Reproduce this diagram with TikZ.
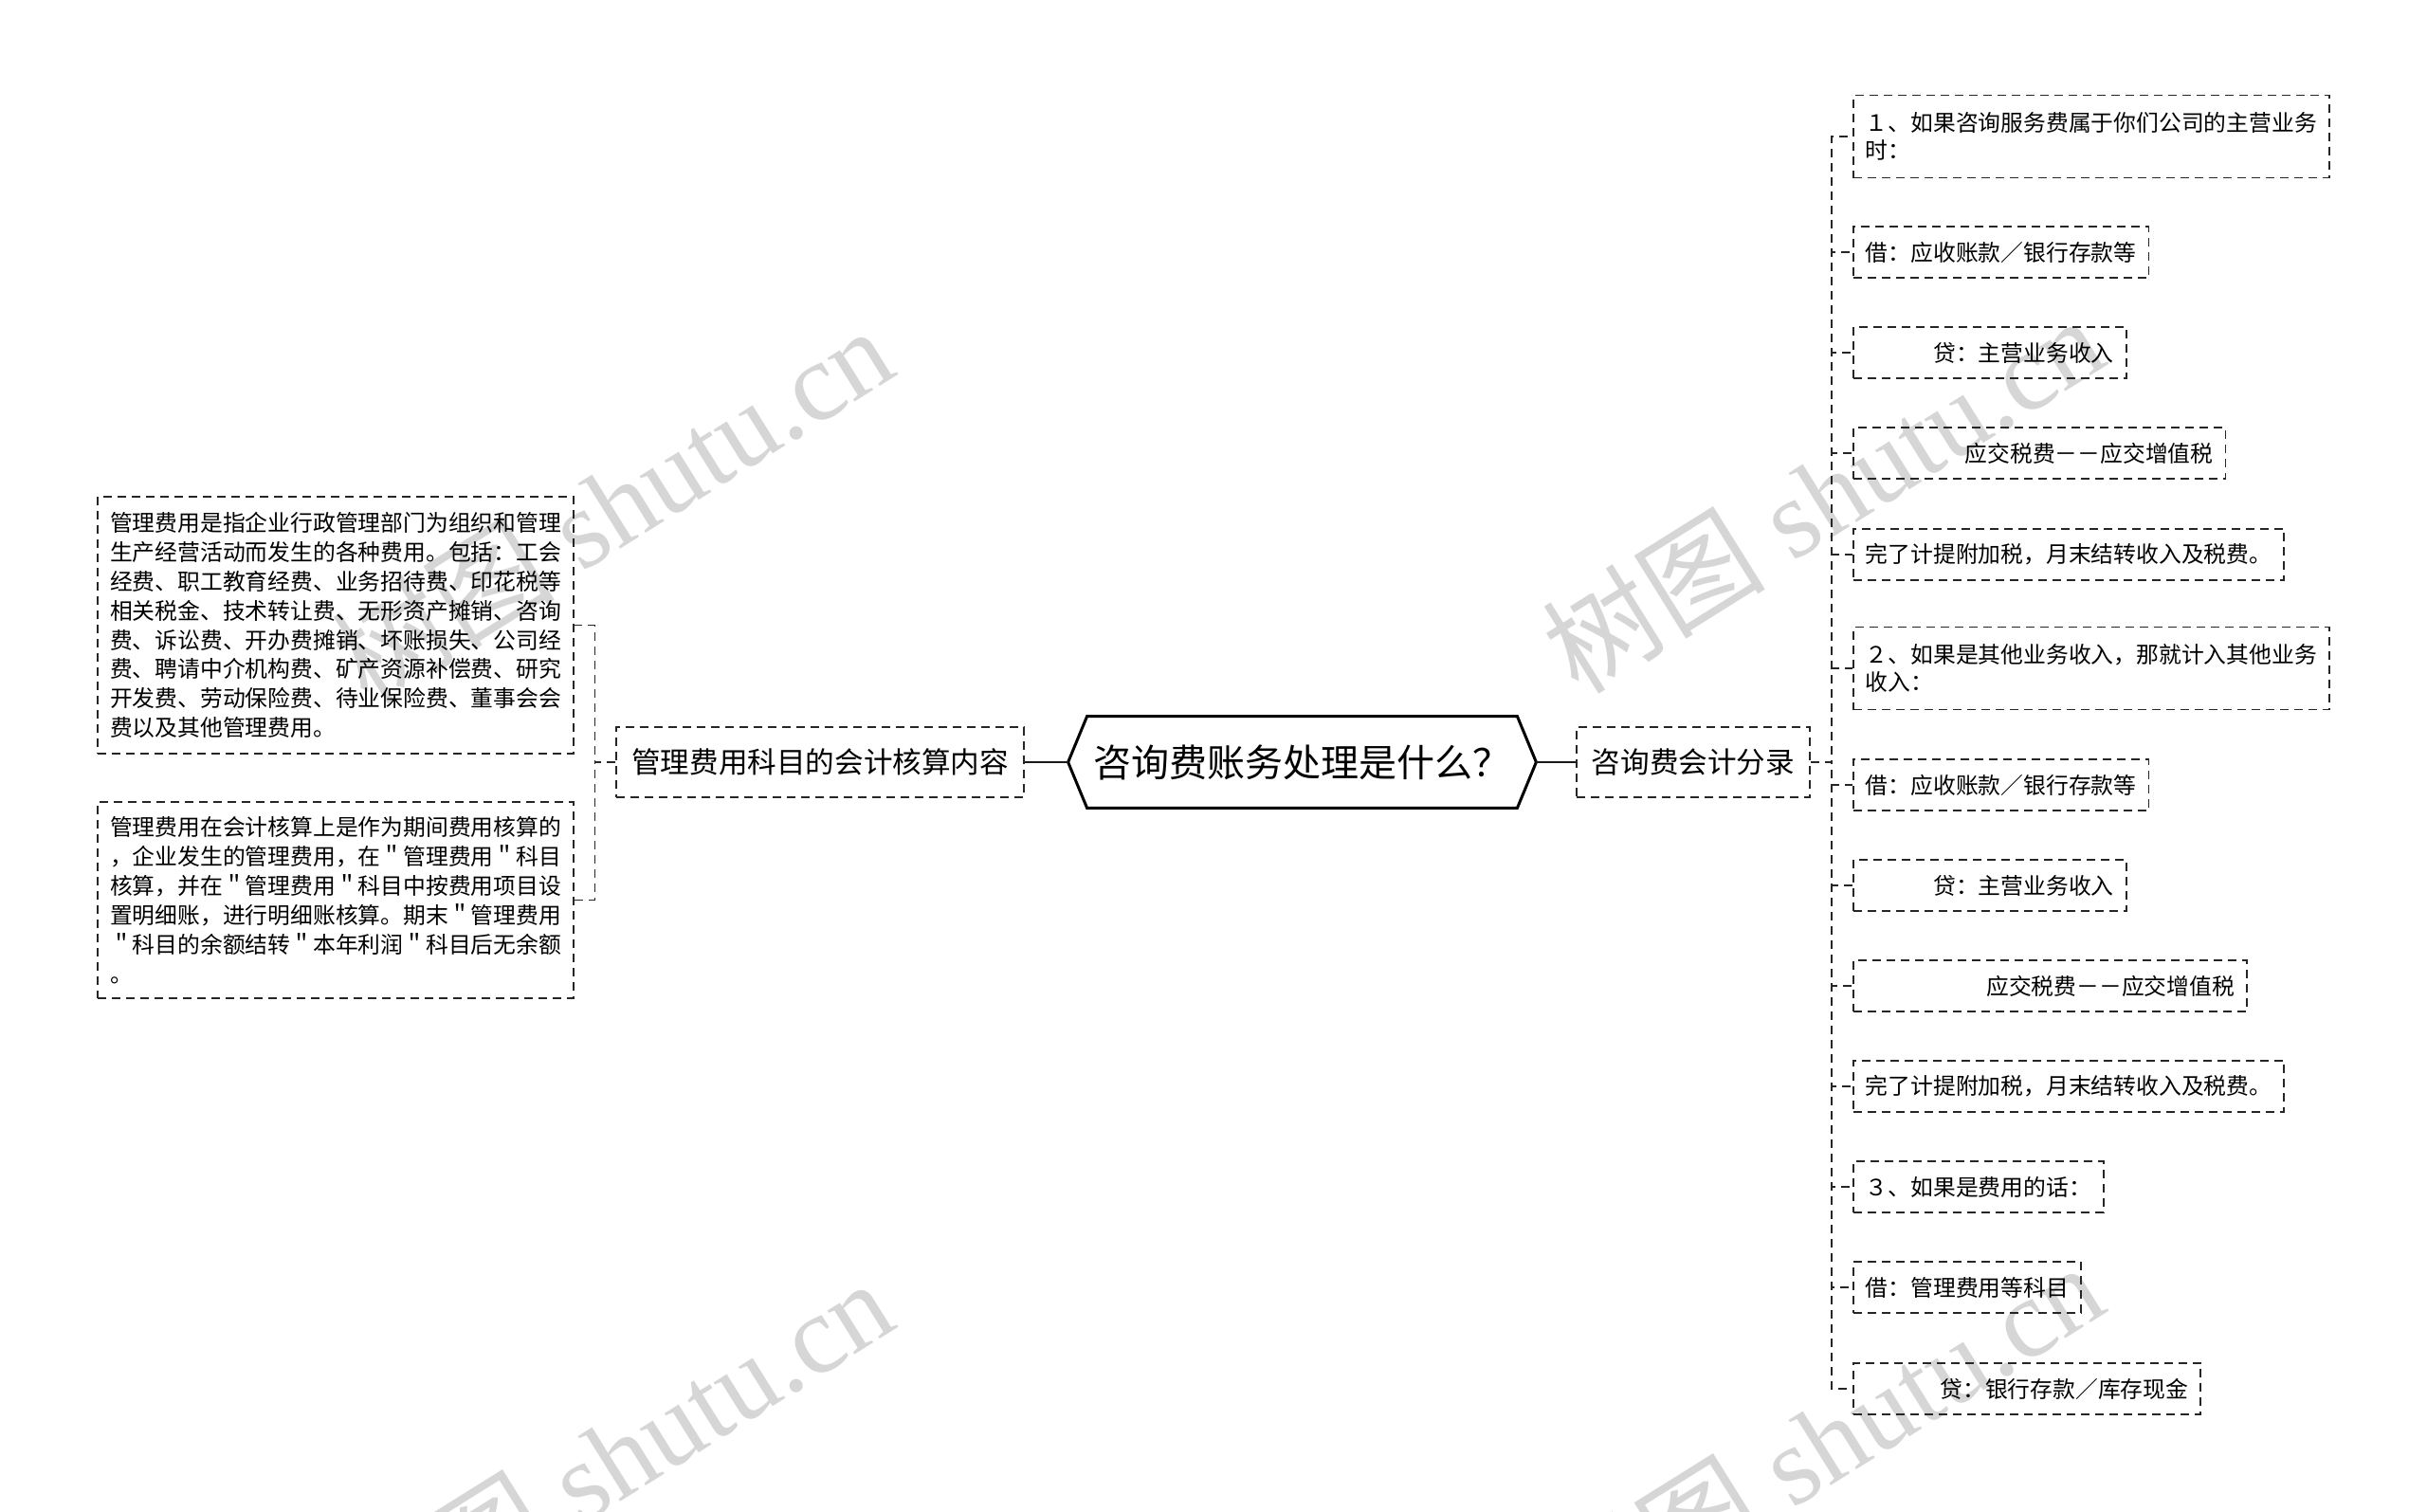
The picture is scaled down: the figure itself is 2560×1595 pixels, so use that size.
\documentclass[tikz,border=0pt]{standalone}
\usepackage{fontspec}
\setmainfont{Noto Sans CJK SC}
\newfontfamily\wmfont{Liberation Serif}
\newfontfamily\cjk{Noto Sans CJK SC}
\begin{document}
\begin{tikzpicture}[x=0.5pt,y=-0.5pt,
  box/.style={draw=black!85, line width=0.9pt, dash pattern=on 4.5pt off 3pt, inner xsep=6.5pt, inner ysep=0pt, align=left, font=\fontsize{11.9pt}{14.5pt}\selectfont},
  one/.style={box, minimum height=27pt, anchor=west},
  two/.style={box, minimum height=43.5pt, anchor=west},
  lbox/.style={box, anchor=east, font=\fontsize{11.9pt}{15.45pt}\selectfont},
  midbox/.style={draw=black!85, line width=0.9pt, dash pattern=on 4.5pt off 3pt, inner xsep=8pt, inner ysep=0pt, minimum height=37pt, font=\fontsize{15.3pt}{18pt}\selectfont},
  link/.style={draw=black!85, line width=0.9pt, dash pattern=on 4.5pt off 3pt},
  rootlink/.style={draw=black!90, line width=1.4pt},
  wm/.style={text=gray!32, rotate=32, inner sep=0pt, font=\fontsize{59pt}{59pt}\wmfont}
]
\useasboundingbox (0,0) rectangle (2560,1595);
\fill[white] (0,0) rectangle (2560,1595);

% watermarks
\node[wm] (wm1) at (645,532) {{\cjk 树图} shutu.cn};
\node[wm] (wm2) at (1922,521) {{\cjk 树图} shutu.cn};
\node[wm] (wm3) at (645,1537) {{\cjk 树图} shutu.cn};
\node[wm] (wm4) at (1922,1520) {{\cjk 树图} shutu.cn};

% root
\node[minimum width=246.5pt, minimum height=48pt, inner sep=0pt, font=\fontsize{20pt}{24pt}\selectfont] (root) at (1373.5,804) {咨询费账务处理是什么？};
\draw[line width=1.5pt, line join=miter] (root.west) -- ([xshift=10pt]root.north west) -- ([xshift=-10pt]root.north east) -- (root.east) -- ([xshift=-10pt]root.south east) -- ([xshift=10pt]root.south west) -- cycle;

% middle nodes
\node[midbox, anchor=east] (lm) at (1081,804) {管理费用科目的会计核算内容};
\node[midbox, anchor=west] (rm) at (1662,804) {咨询费会计分录};
\draw[rootlink] (root.west) -- (lm.east);
\draw[rootlink] (root.east) -- (rm.west);

% left leaves
\node[lbox, minimum height=135.5pt] (l1) at (606,659.5) {管理费用是指企业行政管理部门为组织和管理\\生产经营活动而发生的各种费用。包括：工会\\经费、职工教育经费、业务招待费、印花税等\\相关税金、技术转让费、无形资产摊销、咨询\\费、诉讼费、开办费摊销、坏账损失、公司经\\费、聘请中介机构费、矿产资源补偿费、研究\\开发费、劳动保险费、待业保险费、董事会会\\费以及其他管理费用。};
\node[lbox, minimum height=103.5pt] (l2) at (606,949.5) {管理费用在会计核算上是作为期间费用核算的\\，企业发生的管理费用，在＂管理费用＂科目\\核算，并在＂管理费用＂科目中按费用项目设\\置明细账，进行明细账核算。期末＂管理费用\\＂科目的余额结转＂本年利润＂科目后无余额\\。};
\foreach \n in {l1,l2} \draw[link] (lm.west) -- ++(-22,0) |- (\n.east);

% right leaves
\node[two] (r1) at (1954,144) {１、如果咨询服务费属于你们公司的主营业务\\时：};
\node[one] (r2) at (1954,266) {借：应收账款／银行存款等};
\node[one] (r3) at (1954,372) {\hspace*{3em}贷：主营业务收入};
\node[one] (r4) at (1954,478) {\hspace*{4.4em}应交税费－－应交增值税};
\node[one] (r5) at (1954,585) {完了计提附加税，月末结转收入及税费。};
\node[two] (r6) at (1954,705) {２、如果是其他业务收入，那就计入其他业务\\收入：};
\node[one] (r7) at (1954,828) {借：应收账款／银行存款等};
\node[one] (r8) at (1954,934) {\hspace*{3em}贷：主营业务收入};
\node[one] (r9) at (1954,1040) {\hspace*{5.35em}应交税费－－应交增值税};
\node[one] (r10) at (1954,1146) {完了计提附加税，月末结转收入及税费。};
\node[one] (r11) at (1954,1252) {３、如果是费用的话：};
\node[one] (r12) at (1954,1358) {借：管理费用等科目};
\node[one] (r13) at (1954,1465) {\hspace*{3.3em}贷：银行存款／库存现金};
\foreach \n in {r1,r2,r3,r4,r5,r6,r7,r8,r9,r10,r11,r12,r13} \draw[link] (rm.east) -- ++(22,0) |- (\n.west);
\end{tikzpicture}
\end{document}
